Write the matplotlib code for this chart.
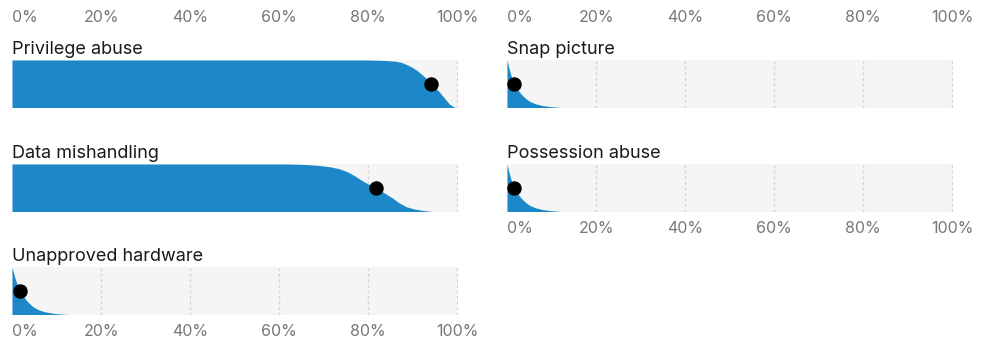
#!/usr/bin/env python3
import matplotlib

matplotlib.use("Agg")
import matplotlib.pyplot as plt


# share of simulated outcomes above each x (percent)
labels = ["Privilege abuse", "Data mishandling", "Unapproved hardware",
          "Snap picture", "Possession abuse"]
medians = [94.2, 81.8, 1.8, 1.6, 1.6]

privilege_x = [0, 80, 84, 86, 87.5, 89, 90, 91, 92, 93, 94.2, 95, 95.8, 96.6, 97.4, 98.2, 99, 99.6, 100]
privilege_y = [1, 1, 0.99, 0.975, 0.95, 0.89, 0.84, 0.78, 0.7, 0.62, 0.5, 0.43, 0.35, 0.26, 0.17, 0.08, 0.025, 0, 0]

data_x = [0, 62, 66, 69, 71.5, 73.5, 75.5, 77, 78.5, 80, 81.8, 83.5, 85.4, 87, 88.6, 90.5, 92.5, 94.5, 100]
data_y = [1, 1, 0.99, 0.97, 0.94, 0.9, 0.83, 0.75, 0.66, 0.58, 0.5, 0.4, 0.29, 0.18, 0.1, 0.05, 0.02, 0, 0]

hardware_x = [0, 0.3, 0.7, 1.2, 1.8, 2.5, 3.3, 4.5, 5.5, 6.7, 8, 9.6, 11, 12.5, 100]
hardware_y = [1, 0.89, 0.76, 0.62, 0.5, 0.39, 0.29, 0.18, 0.12, 0.075, 0.045, 0.022, 0.01, 0, 0]

snap_x = [0, 0.3, 0.7, 1.1, 1.6, 2.3, 3.1, 4.3, 5.3, 6.5, 7.8, 9.4, 10.8, 12.3, 100]
snap_y = [1, 0.88, 0.74, 0.61, 0.5, 0.39, 0.29, 0.18, 0.12, 0.075, 0.045, 0.022, 0.01, 0, 0]

possession_x = [0, 0.3, 0.7, 1.1, 1.6, 2.3, 3.1, 4.3, 5.3, 6.5, 7.8, 9.4, 10.8, 12.3, 100]
possession_y = [1, 0.88, 0.74, 0.61, 0.5, 0.39, 0.29, 0.18, 0.12, 0.075, 0.045, 0.022, 0.01, 0, 0]

curves = [(privilege_x, privilege_y), (data_x, data_y), (hardware_x, hardware_y),
          (snap_x, snap_y), (possession_x, possession_y)]

ticks = [0, 20, 40, 60, 80, 100]
tick_labels = ["0%", "20%", "40%", "60%", "80%", "100%"]

BLUE = "#1c87c9"
W, H = 984, 347


def main() -> int:
    plt.rcParams["font.family"] = ["Inter", "DejaVu Sans"]
    fig = plt.figure(figsize=(W / 100, H / 100), dpi=100)

    # (left px, top px, tick side)
    slots = [(12, 60, "top"), (12, 164, None), (12, 267, "bottom"),
             (507, 60, "top"), (507, 164, "bottom")]
    for (left, top, side), label, med, (xs, ys) in zip(slots, labels, medians, curves):
        _panel(fig, left, top, side, label, med, xs, ys)

    fig.savefig("out.png", dpi=100)
    plt.close(fig)
    return 0


def _panel(fig, left, top, side, label, med, xs, ys):
    h = 47.5
    ax = fig.add_axes([left / W, 1 - (top + h) / H, 446 / W, h / H])
    ax.set_facecolor("#f5f5f5")
    ax.set_xlim(0, 100.2)
    ax.set_ylim(0, 1)
    for s in ax.spines.values():
        s.set_visible(False)

    for t in ticks[1:]:
        ax.axvline(t, color="#d4d4d4", lw=1, ls=(0, (2, 2)), zorder=1)
    ax.fill_between(xs, 0, ys, color=BLUE, lw=0, zorder=2)
    ax.plot([med], [0.5], "o", color="black", ms=9.4, zorder=3)

    ax.set_yticks([])
    if side is None:
        ax.set_xticks([])
    else:
        ax.set_xticks(ticks)
        ax.set_xticklabels(tick_labels, fontsize=11.5, color="#777777")
        if side == "top":
            ax.xaxis.tick_top()
            ax.tick_params(axis="x", length=0, pad=25)
        else:
            ax.tick_params(axis="x", length=0, pad=7)
        ax.get_xticklabels()[0].set_ha("left")

    ax.text(0, 1 + 6 / h, label, transform=ax.transAxes, ha="left", va="baseline",
            fontsize=13, color="#1a1a1a")


if __name__ == "__main__":
    raise SystemExit(main())
